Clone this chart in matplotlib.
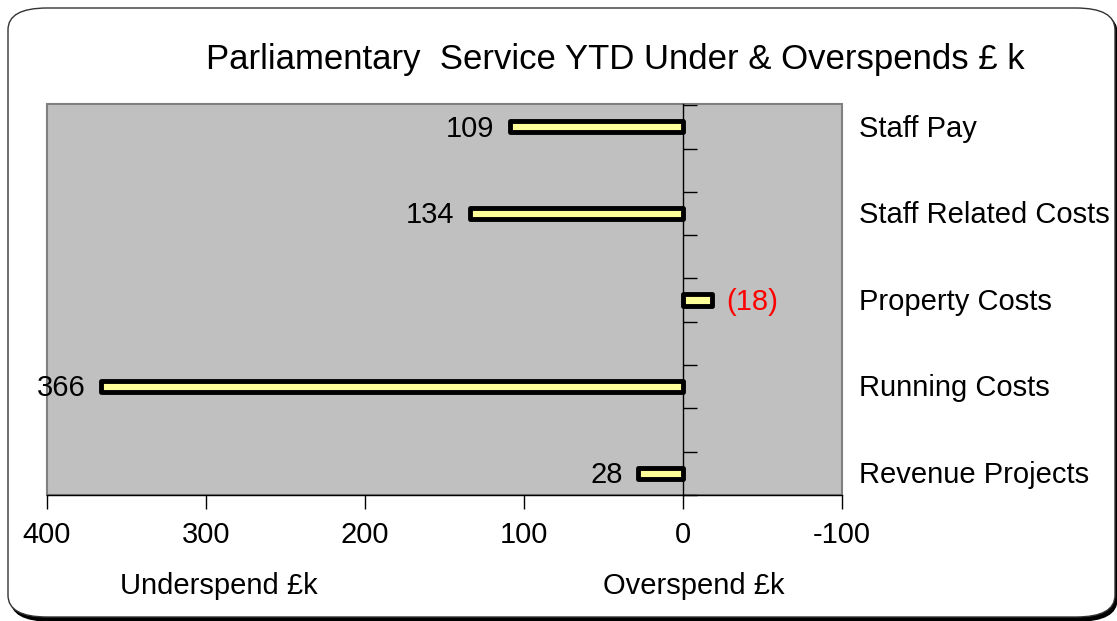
import matplotlib
matplotlib.use("Agg")
import matplotlib.pyplot as plt
from matplotlib.patches import FancyBboxPatch, Rectangle

categories = ["Staff Pay", "Staff Related Costs", "Property Costs", "Running Costs", "Revenue Projects"]
values = [109, 134, -18, 366, 28]
labels = ["109", "134", "(18)", "366", "28"]
xticks = [400, 300, 200, 100, 0, -100]
title = "Parliamentary  Service YTD Under & Overspends £ k"

plt.rcParams['font.family'] = ['Liberation Sans', 'DejaVu Sans']

W, H = 1117, 621
fig = plt.figure(figsize=(W / 100, H / 100), dpi=100)

def fx(px): return px / W
def fy(py): return 1 - py / H

# frame with shadow
shadow = FancyBboxPatch((fx(11), fy(621)), fx(1117) - fx(11), fy(11) - fy(621),
                        boxstyle="round,pad=0,rounding_size=0.035", transform=fig.transFigure,
                        facecolor="black", edgecolor="black", zorder=0)
fig.patches.append(shadow)
frame = FancyBboxPatch((fx(8), fy(617)), fx(1115) - fx(8), fy(8) - fy(617),
                       boxstyle="round,pad=0,rounding_size=0.035", transform=fig.transFigure,
                       facecolor="white", edgecolor="#333333", linewidth=1.0, zorder=1)
fig.patches.append(frame)

ax = fig.add_axes([fx(47), fy(495), fx(842) - fx(47), fy(104) - fy(495)])
ax.set_facecolor("#c0c0c0")
ax.set_zorder(2)

y = list(range(len(categories)))
ax.barh(y, values, height=0.13, color="#ffff99", edgecolor="black", linewidth=3.5,
        joinstyle="round", zorder=3)

ax.set_xlim(400, -100)
ax.set_ylim(4.218, -0.264)

for s in ["top", "right"]:
    ax.spines[s].set_color("#808080")
    ax.spines[s].set_linewidth(1.2)
ax.spines["bottom"].set_color("black")
ax.spines["bottom"].set_linewidth(1.0)
ax.add_patch(Rectangle((0, 0), 1, 1, transform=ax.transAxes, fill=False,
                       edgecolor="#808080", linewidth=1.5, zorder=1, clip_on=False))

# zero line as left spine
ax.spines["left"].set_position(("data", 0))
ax.spines["left"].set_color("black")
ax.spines["left"].set_linewidth(1.0)
ax.spines["left"].set_zorder(4)
ax.set_yticks([k + d for k in y for d in (-0.25, 0.25)])
ax.tick_params(axis="y", direction="in", length=10, width=1, labelleft=False)

ax.set_xticks(xticks)
ax.set_xticklabels([str(t) for t in xticks])
ax.tick_params(axis="x", direction="out", length=10, width=1, labelsize=21, pad=9)

# data labels
for yi, v, lab in zip(y, values, labels):
    if v >= 0:
        ax.text(v + 10, yi + 0.02, lab, ha="right", va="center", fontsize=21, color="black", zorder=5)
    else:
        ax.text(v - 9, yi + 0.02, lab, ha="left", va="center", fontsize=21, color="red", zorder=5)

# category labels at right
for yi, c in zip(y, categories):
    ax.text(1.022, yi + 0.02, c, transform=ax.get_yaxis_transform(), ha="left", va="center",
            fontsize=21, color="black")

fig.text(fx(615), fy(59), title, ha="center", va="center", fontsize=25, color="black")
fig.text(fx(219), fy(586), "Underspend £k", ha="center", va="center", fontsize=21)
fig.text(fx(694), fy(586), "Overspend £k", ha="center", va="center", fontsize=21)

fig.savefig("out.png", dpi=100)
